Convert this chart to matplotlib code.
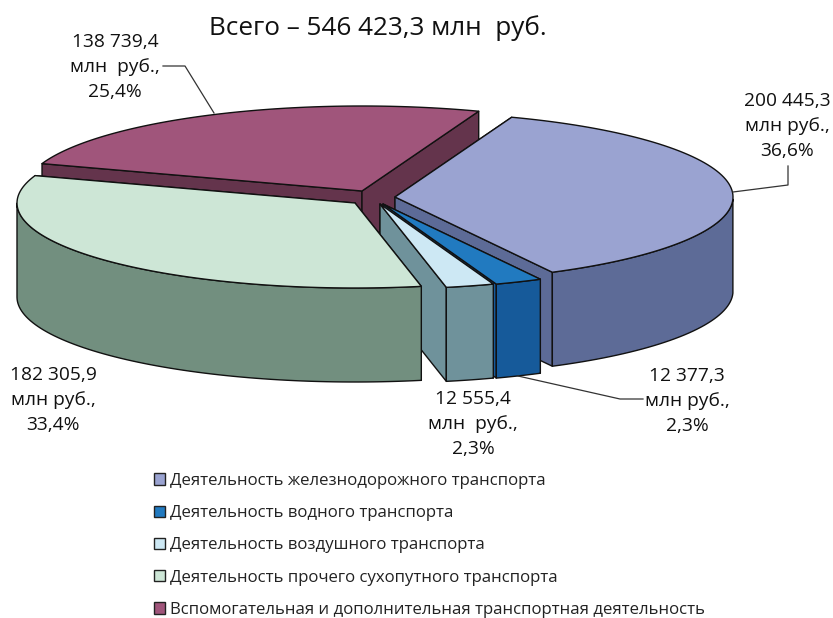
import numpy as np
import matplotlib
matplotlib.use("Agg")
import matplotlib.pyplot as plt
from matplotlib.patches import Patch, Polygon

plt.rcParams["font.family"] = ["Open Sans", "DejaVu Sans"]

TITLE = "Всего – 546 423,3 млн  руб."
CATEGORIES = [
    "Деятельность железнодорожного транспорта",
    "Деятельность водного транспорта",
    "Деятельность воздушного транспорта",
    "Деятельность прочего сухопутного транспорта",
    "Вспомогательная и дополнительная транспортная деятельность",
]
VALUES = [200445.3, 12377.3, 12555.4, 182305.9, 138739.4]
LABELS = [
    "200 445,3\nмлн руб.,\n36,6%",
    "12 377,3\nмлн руб.,\n2,3%",
    "12 555,4\nмлн  руб.,\n2,3%",
    "182 305,9\nмлн руб.,\n33,4%",
    "138 739,4\nмлн  руб.,\n25,4%",
]
TOP_COLORS = ["#9aa3d1", "#217ac0", "#cde8f4", "#cde6d6", "#a0557b"]
WALL_COLORS = ["#5d6b97", "#165a9a", "#6f929b", "#728f7f", "#64344c"]

# slice tips (pixels), they are pulled apart
APEX = [(395, 197), (383, 204), (380, 204), (355, 203), (362, 191)]
LABEL_POS = [(787, 126), (687, 401), (473, 424), (53, 400), (115, 67)]
DRAW_ORDER = [4, 0, 1, 2, 3]

RX, RY, DEPTH = 338, 85, 94
START_ANGLE = 69.8
EDGE = dict(edgecolor="#111111", linewidth=1.0, joinstyle="round")


def draw_slice(ax, apex, a_from, a_to, top_color, wall_color):
    cx, cy = apex
    t = np.radians(np.linspace(a_from, a_to, 90))
    rim = np.column_stack([cx + RX * np.cos(t), cy - RY * np.sin(t)])
    down = np.array([0, DEPTH])
    tip = np.array([cx, cy])

    # cut faces first, then the outer wall, then the top
    for end in (rim[0], rim[-1]):
        face = [tip, end, end + down, tip + down]
        ax.add_patch(Polygon(face, closed=True, facecolor=wall_color, **EDGE))

    front = rim[np.sin(t) <= 0.0]
    if len(front) > 1:
        wall = np.vstack([front, (front + down)[::-1]])
        ax.add_patch(Polygon(wall, closed=True, facecolor=wall_color, **EDGE))

    top = np.vstack([tip, rim])
    ax.add_patch(Polygon(top, closed=True, facecolor=top_color, **EDGE))


fig = plt.figure(figsize=(8.33, 6.18), dpi=100)
ax = fig.add_axes([0, 0, 1, 1])
ax.set_xlim(0, 833)
ax.set_ylim(618, 0)
ax.axis("off")

spans = 360.0 * np.array(VALUES) / sum(VALUES)
ends = START_ANGLE - np.cumsum(spans)
starts = ends + spans

for i in DRAW_ORDER:
    draw_slice(ax, APEX[i], starts[i], ends[i], TOP_COLORS[i], WALL_COLORS[i])

# leader lines
ax.plot([163, 185, 214], [66, 66, 113], color="#333333", lw=0.9)
ax.plot([788, 788, 733], [166, 185, 192], color="#333333", lw=0.9)
ax.plot([518, 620, 643], [376, 399, 399], color="#333333", lw=0.9)

for label, (x, y) in zip(LABELS, LABEL_POS):
    ax.text(x, y, label, ha="center", va="center", fontsize=13.8,
            linespacing=1.5, color="#111111")

ax.text(378, 28, TITLE, ha="center", va="center", fontsize=18.8, color="#111111")

handles = [Patch(facecolor=c, edgecolor="#222222", linewidth=1.0) for c in TOP_COLORS]
ax.legend(handles, CATEGORIES, loc="upper left", bbox_to_anchor=(154, 473),
          bbox_transform=ax.transData, frameon=False, fontsize=12.1,
          labelspacing=0.965, handlelength=0.66, handleheight=0.66,
          handletextpad=0.3, borderpad=0, borderaxespad=0, labelcolor="#222222")

fig.savefig("out.png", dpi=100)
plt.close(fig)
